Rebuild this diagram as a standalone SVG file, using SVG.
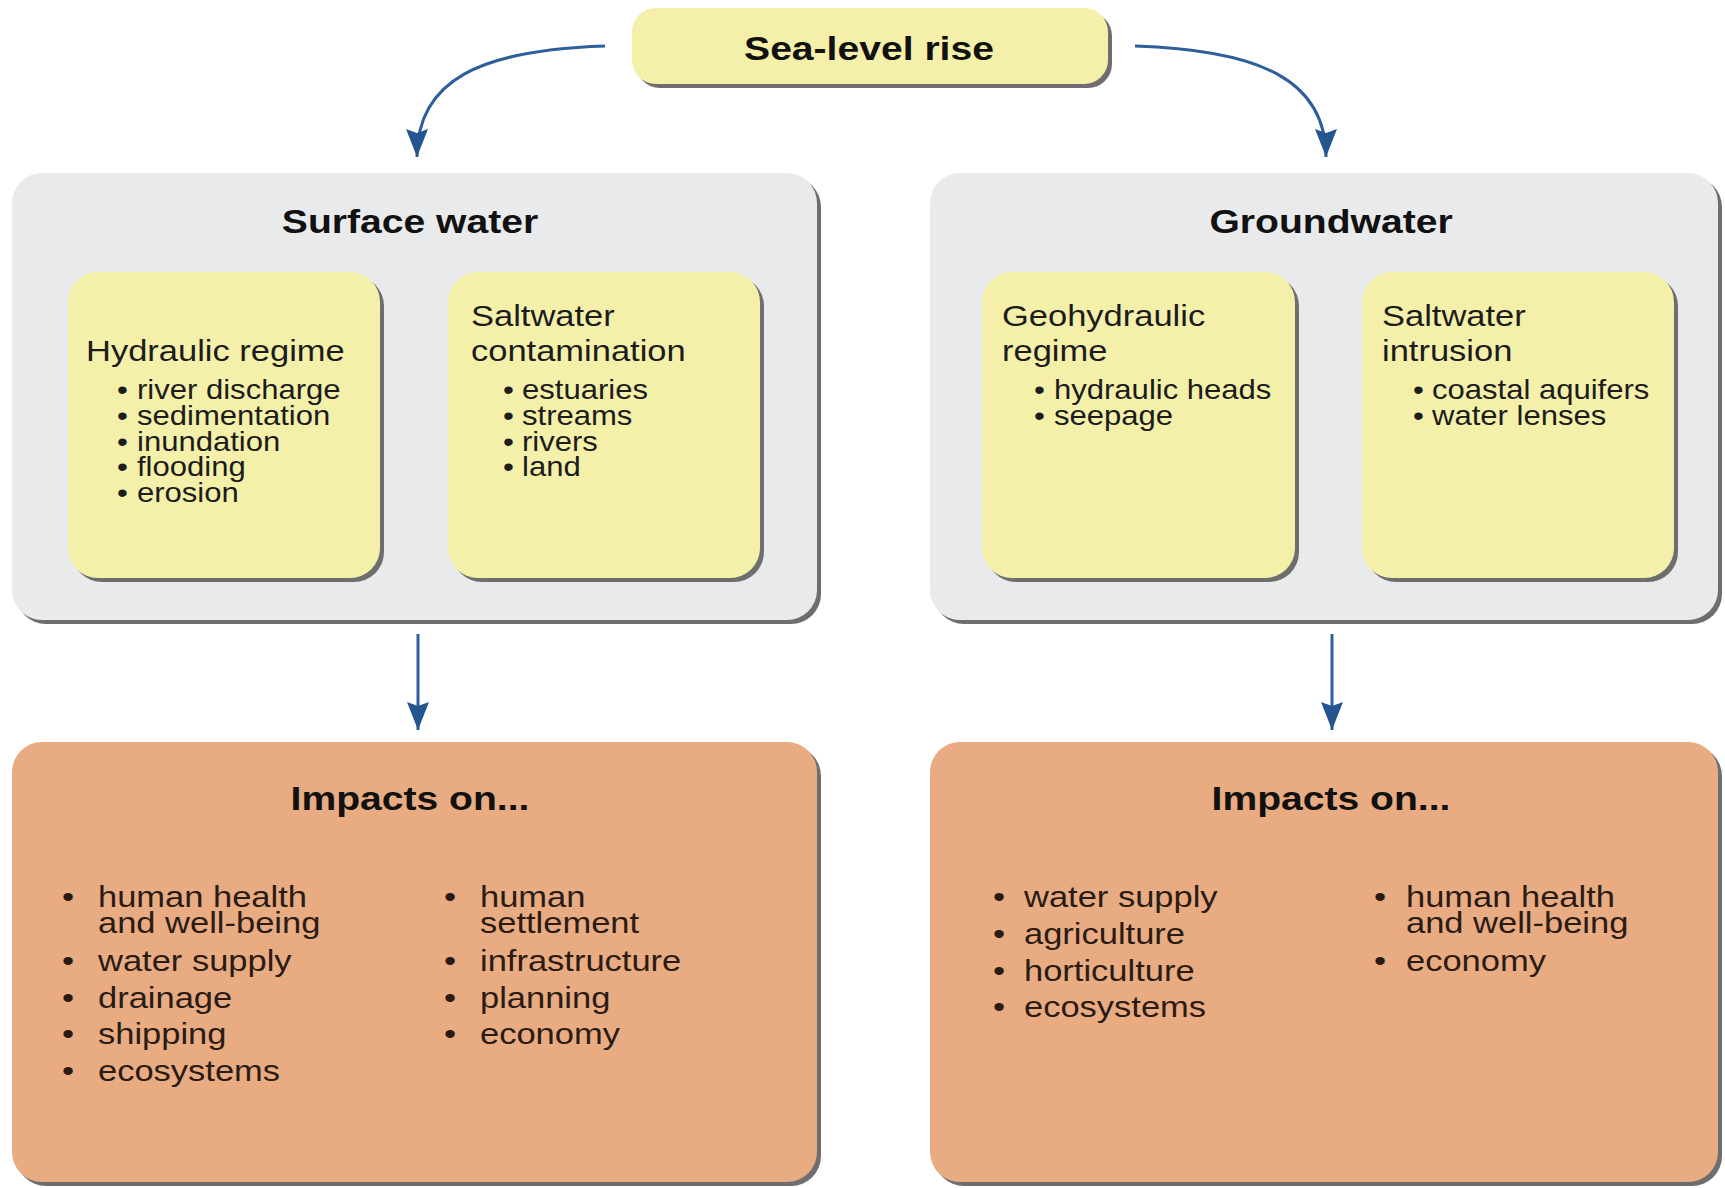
<svg xmlns="http://www.w3.org/2000/svg" width="1725" height="1188" viewBox="0 0 1725 1188">
<style>
.bg{fill:#ffffff}
.sh{fill:#6e6e6e}
.grey{fill:#e9eaec}
.yel{fill:#f4f0aa}
.org{fill:#e9ab82}
text{font-family:"Liberation Sans",Arial,sans-serif;fill:#1c1c1c}
.h{font-size:34px;font-weight:bold;text-anchor:middle;fill:#111}
.sub{font-size:30px}
.b{font-size:27px}
.li{font-size:30px;fill:#2a1c14}
.con{fill:none;stroke:#2e5e9b;stroke-width:3}
</style>
<defs>
<marker id="ah" markerUnits="userSpaceOnUse" markerWidth="30" markerHeight="24" refX="28" refY="11" orient="auto">
<path d="M0,0 L28,11 L0,22 L4,11 z" fill="#24558f"/>
</marker>
</defs>
<rect class="bg" x="0" y="0" width="1725" height="1188"/>

<g id="connectors">
<path class="con" d="M605,46 C480,50 417,80 417,157" marker-end="url(#ah)"/>
<path class="con" d="M1135,46 C1260,50 1326,80 1326,157" marker-end="url(#ah)"/>
<path class="con" d="M418,634 L418,730" marker-end="url(#ah)"/>
<path class="con" d="M1332,634 L1332,730" marker-end="url(#ah)"/>
</g>

<g id="sea-level-rise">
<rect class="sh" x="636" y="12" width="476" height="76" rx="24"/>
<rect class="yel" x="632" y="8" width="476" height="76" rx="24"/>
<text class="h" transform="translate(869,60) scale(1.15,1)">Sea-level rise</text>
</g>

<g id="surface-water">
<rect class="sh" x="16" y="177" width="805" height="447" rx="30"/>
<rect class="grey" x="12" y="173" width="805" height="447" rx="30"/>
<text class="h" transform="translate(410,233) scale(1.15,1)">Surface water</text>
</g>

<g id="hydraulic-regime">
<rect class="sh" x="72" y="276" width="312" height="306" rx="30"/>
<rect class="yel" x="68" y="272" width="312" height="306" rx="30"/>
<text class="sub" transform="translate(86,361) scale(1.15,1)">Hydraulic regime</text>
<text class="b" transform="translate(117,399) scale(1.15,1)">•</text>
<text class="b" transform="translate(137,399) scale(1.15,1)">river discharge</text>
<text class="b" transform="translate(117,425) scale(1.15,1)">•</text>
<text class="b" transform="translate(137,425) scale(1.15,1)">sedimentation</text>
<text class="b" transform="translate(117,451) scale(1.15,1)">•</text>
<text class="b" transform="translate(137,451) scale(1.15,1)">inundation</text>
<text class="b" transform="translate(117,476) scale(1.15,1)">•</text>
<text class="b" transform="translate(137,476) scale(1.15,1)">flooding</text>
<text class="b" transform="translate(117,502) scale(1.15,1)">•</text>
<text class="b" transform="translate(137,502) scale(1.15,1)">erosion</text>
</g>

<g id="saltwater-contamination">
<rect class="sh" x="452" y="276" width="312" height="306" rx="30"/>
<rect class="yel" x="448" y="272" width="312" height="306" rx="30"/>
<text class="sub" transform="translate(471,326) scale(1.15,1)">Saltwater</text>
<text class="sub" transform="translate(471,361) scale(1.15,1)">contamination</text>
<text class="b" transform="translate(503,399) scale(1.15,1)">•</text>
<text class="b" transform="translate(522,399) scale(1.15,1)">estuaries</text>
<text class="b" transform="translate(503,425) scale(1.15,1)">•</text>
<text class="b" transform="translate(522,425) scale(1.15,1)">streams</text>
<text class="b" transform="translate(503,451) scale(1.15,1)">•</text>
<text class="b" transform="translate(522,451) scale(1.15,1)">rivers</text>
<text class="b" transform="translate(503,476) scale(1.15,1)">•</text>
<text class="b" transform="translate(522,476) scale(1.15,1)">land</text>
</g>

<g id="groundwater">
<rect class="sh" x="934" y="177" width="788" height="447" rx="30"/>
<rect class="grey" x="930" y="173" width="788" height="447" rx="30"/>
<text class="h" transform="translate(1331,233) scale(1.15,1)">Groundwater</text>
</g>

<g id="geohydraulic-regime">
<rect class="sh" x="986" y="276" width="313" height="306" rx="30"/>
<rect class="yel" x="982" y="272" width="313" height="306" rx="30"/>
<text class="sub" transform="translate(1002,326) scale(1.15,1)">Geohydraulic</text>
<text class="sub" transform="translate(1002,361) scale(1.15,1)">regime</text>
<text class="b" transform="translate(1034,399) scale(1.15,1)">•</text>
<text class="b" transform="translate(1054,399) scale(1.15,1)">hydraulic heads</text>
<text class="b" transform="translate(1034,425) scale(1.15,1)">•</text>
<text class="b" transform="translate(1054,425) scale(1.15,1)">seepage</text>
</g>

<g id="saltwater-intrusion">
<rect class="sh" x="1366" y="276" width="312" height="306" rx="30"/>
<rect class="yel" x="1362" y="272" width="312" height="306" rx="30"/>
<text class="sub" transform="translate(1382,326) scale(1.15,1)">Saltwater</text>
<text class="sub" transform="translate(1382,361) scale(1.15,1)">intrusion</text>
<text class="b" transform="translate(1413,399) scale(1.15,1)">•</text>
<text class="b" transform="translate(1432,399) scale(1.15,1)">coastal aquifers</text>
<text class="b" transform="translate(1413,425) scale(1.15,1)">•</text>
<text class="b" transform="translate(1432,425) scale(1.15,1)">water lenses</text>
</g>

<g id="impacts-surface">
<rect class="sh" x="16" y="746" width="805" height="440" rx="30"/>
<rect class="org" x="12" y="742" width="805" height="440" rx="30"/>
<text class="h" transform="translate(410,810) scale(1.15,1)">Impacts on...</text>
<text class="li" transform="translate(62,907) scale(1.15,1)">•</text>
<text class="li" transform="translate(98,907) scale(1.15,1)">human health</text>
<text class="li" transform="translate(98,933) scale(1.15,1)">and well-being</text>
<text class="li" transform="translate(62,971) scale(1.15,1)">•</text>
<text class="li" transform="translate(98,971) scale(1.15,1)">water supply</text>
<text class="li" transform="translate(62,1008) scale(1.15,1)">•</text>
<text class="li" transform="translate(98,1008) scale(1.15,1)">drainage</text>
<text class="li" transform="translate(62,1044) scale(1.15,1)">•</text>
<text class="li" transform="translate(98,1044) scale(1.15,1)">shipping</text>
<text class="li" transform="translate(62,1081) scale(1.15,1)">•</text>
<text class="li" transform="translate(98,1081) scale(1.15,1)">ecosystems</text>
<text class="li" transform="translate(444,907) scale(1.15,1)">•</text>
<text class="li" transform="translate(480,907) scale(1.15,1)">human</text>
<text class="li" transform="translate(480,933) scale(1.15,1)">settlement</text>
<text class="li" transform="translate(444,971) scale(1.15,1)">•</text>
<text class="li" transform="translate(480,971) scale(1.15,1)">infrastructure</text>
<text class="li" transform="translate(444,1008) scale(1.15,1)">•</text>
<text class="li" transform="translate(480,1008) scale(1.15,1)">planning</text>
<text class="li" transform="translate(444,1044) scale(1.15,1)">•</text>
<text class="li" transform="translate(480,1044) scale(1.15,1)">economy</text>
</g>

<g id="impacts-groundwater">
<rect class="sh" x="934" y="746" width="788" height="440" rx="30"/>
<rect class="org" x="930" y="742" width="788" height="440" rx="30"/>
<text class="h" transform="translate(1331,810) scale(1.15,1)">Impacts on...</text>
<text class="li" transform="translate(993,907) scale(1.15,1)">•</text>
<text class="li" transform="translate(1024,907) scale(1.15,1)">water supply</text>
<text class="li" transform="translate(993,944) scale(1.15,1)">•</text>
<text class="li" transform="translate(1024,944) scale(1.15,1)">agriculture</text>
<text class="li" transform="translate(993,981) scale(1.15,1)">•</text>
<text class="li" transform="translate(1024,981) scale(1.15,1)">horticulture</text>
<text class="li" transform="translate(993,1017) scale(1.15,1)">•</text>
<text class="li" transform="translate(1024,1017) scale(1.15,1)">ecosystems</text>
<text class="li" transform="translate(1374,907) scale(1.15,1)">•</text>
<text class="li" transform="translate(1406,907) scale(1.15,1)">human health</text>
<text class="li" transform="translate(1406,933) scale(1.15,1)">and well-being</text>
<text class="li" transform="translate(1374,971) scale(1.15,1)">•</text>
<text class="li" transform="translate(1406,971) scale(1.15,1)">economy</text>
</g>
</svg>
